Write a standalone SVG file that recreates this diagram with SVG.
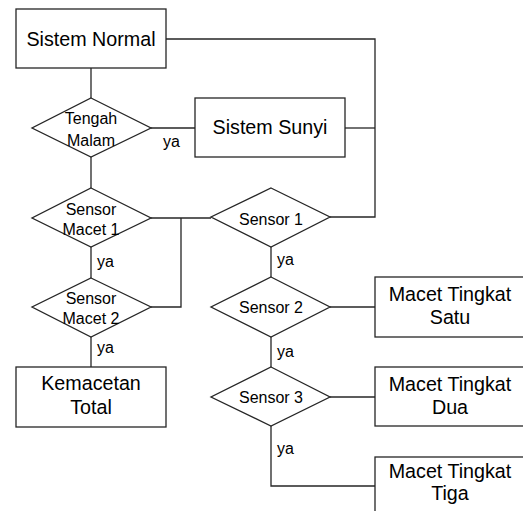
<svg xmlns="http://www.w3.org/2000/svg" width="523" height="511" viewBox="0 0 523 511">
<style>
.b{fill:#fff;stroke:#262626;stroke-width:1.3}
.c{fill:none;stroke:#262626;stroke-width:1.3}
.t{font-family:"Liberation Sans",Arial,sans-serif;font-size:19.7px;fill:#000;text-anchor:middle}
.d{font-family:"Liberation Sans",Arial,sans-serif;font-size:16px;fill:#000;text-anchor:middle}
.y{font-family:"Liberation Sans",Arial,sans-serif;font-size:16px;fill:#000}
</style>
<rect width="523" height="511" fill="#fff"/>
<g id="connectors">
<polyline class="c" points="166,39 375,39 375,217 330,217"/>
<line class="c" x1="345" y1="128" x2="375" y2="128"/>
<line class="c" x1="91" y1="68" x2="91" y2="98"/>
<line class="c" x1="151" y1="128" x2="195" y2="128"/>
<line class="c" x1="91" y1="157" x2="91" y2="188"/>
<line class="c" x1="151" y1="218" x2="211" y2="218"/>
<polyline class="c" points="181,218 181,307 151,307"/>
<line class="c" x1="91" y1="247" x2="91" y2="278"/>
<line class="c" x1="91" y1="337" x2="91" y2="367"/>
<line class="c" x1="271" y1="247" x2="271" y2="277"/>
<line class="c" x1="330" y1="307" x2="375" y2="307"/>
<line class="c" x1="271" y1="337" x2="271" y2="367"/>
<line class="c" x1="330" y1="397" x2="375" y2="397"/>
<polyline class="c" points="271,426 271,486 375,486"/>
<text class="y" x="163" y="147">ya</text>
<text class="y" x="97" y="267">ya</text>
<text class="y" x="97" y="353">ya</text>
<text class="y" x="277" y="265">ya</text>
<text class="y" x="277" y="357">ya</text>
<text class="y" x="277" y="454">ya</text>
</g>
<g id="sistem-normal">
<rect class="b" x="16" y="9" width="150" height="59"/>
<text class="t" x="91" y="46">Sistem Normal</text>
</g>
<g id="tengah-malam">
<polygon class="b" points="91,98 151,128 91,157 32,128"/>
<text class="d" x="91" y="124">Tengah</text>
<text class="d" x="91" y="146">Malam</text>
</g>
<g id="sistem-sunyi">
<rect class="b" x="195" y="98" width="150" height="59"/>
<text class="t" x="270" y="134">Sistem Sunyi</text>
</g>
<g id="sensor-macet-1">
<polygon class="b" points="91,188 151,218 91,247 32,218"/>
<text class="d" x="91" y="215">Sensor</text>
<text class="d" x="91" y="235">Macet 1</text>
</g>
<g id="sensor-macet-2">
<polygon class="b" points="91,278 151,307 91,337 32,307"/>
<text class="d" x="91" y="304">Sensor</text>
<text class="d" x="91" y="324">Macet 2</text>
</g>
<g id="kemacetan-total">
<rect class="b" x="16" y="367" width="150" height="60"/>
<text class="t" x="91" y="390">Kemacetan</text>
<text class="t" x="91" y="414">Total</text>
</g>
<g id="sensor-1">
<polygon class="b" points="271,188 330,217 271,247 211,217"/>
<text class="d" x="271" y="225">Sensor 1</text>
</g>
<g id="sensor-2">
<polygon class="b" points="271,277 330,307 271,337 211,307"/>
<text class="d" x="271" y="313">Sensor 2</text>
</g>
<g id="sensor-3">
<polygon class="b" points="271,367 330,397 271,426 211,397"/>
<text class="d" x="271" y="403">Sensor 3</text>
</g>
<g id="macet-satu">
<rect class="b" x="375" y="277" width="150" height="60"/>
<text class="t" x="450" y="301">Macet Tingkat</text>
<text class="t" x="450" y="324">Satu</text>
</g>
<g id="macet-dua">
<rect class="b" x="375" y="367" width="150" height="59"/>
<text class="t" x="450" y="391">Macet Tingkat</text>
<text class="t" x="450" y="414">Dua</text>
</g>
<g id="macet-tiga">
<rect class="b" x="375" y="457" width="150" height="60"/>
<text class="t" x="450" y="478">Macet Tingkat</text>
<text class="t" x="450" y="500">Tiga</text>
</g>
</svg>
